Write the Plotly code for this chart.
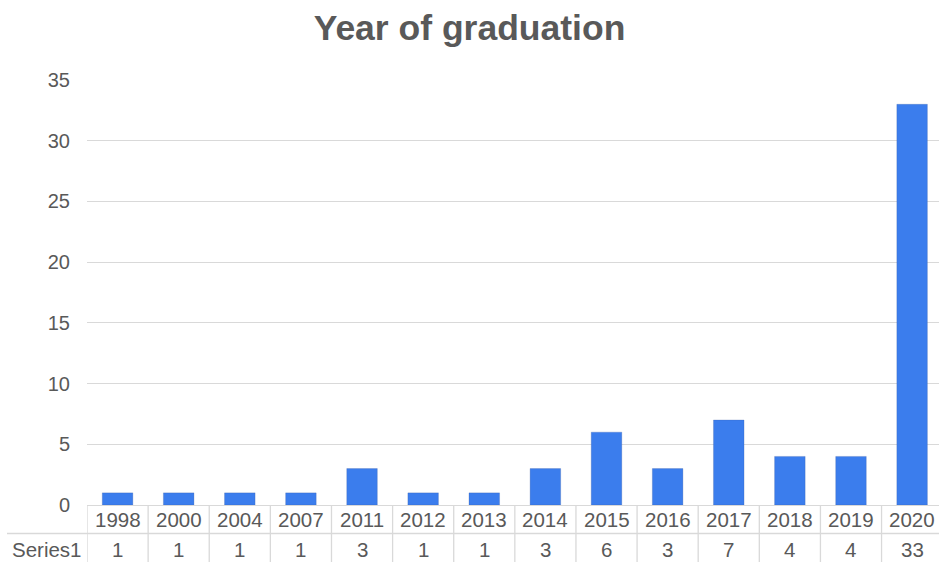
import plotly.graph_objects as go

years = ["1998", "2000", "2004", "2007", "2011", "2012", "2013", "2014",
         "2015", "2016", "2017", "2018", "2019", "2020"]
counts = [1, 1, 1, 1, 3, 1, 1, 3, 6, 3, 7, 4, 4, 33]
series_name = "Series1"
title_text = "Year of graduation"

TEXT = "#595959"
GRID = "#D9D9D9"
FONT = "Liberation Sans, Arial, sans-serif"

fig = go.Figure()
fig.add_trace(go.Bar(
    x=list(range(len(years))), y=counts, width=0.5,
    marker=dict(color="#3B7DED", line=dict(color="rgba(60,90,160,0.25)", width=1)),
    hoverinfo="y", showlegend=False,
))

n = len(years)
shapes = []
annotations = []
ROW1 = -14
ROW2 = -44
ph = 562 - 80 - 57
pw = 852
for i, (yr, c) in enumerate(zip(years, counts)):
    annotations.append(dict(x=i, y=0, xref="x", yref="paper", text=yr, showarrow=False,
                            xanchor="center", yanchor="middle", yshift=ROW1,
                            font=dict(size=20.5, color=TEXT, family=FONT)))
    annotations.append(dict(x=i, y=0, xref="x", yref="paper", text=str(c), showarrow=False,
                            xanchor="center", yanchor="middle", yshift=ROW2,
                            font=dict(size=20.5, color=TEXT, family=FONT)))
annotations.append(dict(x=-40 / pw, y=0, xref="paper", yref="paper", text=series_name, showarrow=False,
                        xanchor="center", yanchor="middle", yshift=ROW2,
                        font=dict(size=20.5, color=TEXT, family=FONT)))
for i in range(n + 1):
    shapes.append(dict(type="line", xref="x", yref="paper", x0=i - 0.5, x1=i - 0.5,
                       y0=0, y1=-70 / ph, line=dict(color=GRID, width=1.3)))
shapes.append(dict(type="line", xref="paper", yref="paper", x0=-80 / pw, x1=1.01,
                   y0=-28.5 / ph, y1=-28.5 / ph, line=dict(color=GRID, width=1.3)))

fig.update_layout(
    width=939, height=562,
    margin=dict(l=87, r=0, t=80, b=57),
    paper_bgcolor="white", plot_bgcolor="white",
    title=dict(text="<b>" + title_text + "</b>", x=0.5, xref="container", y=1 - 28 / 562,
               yanchor="middle", xanchor="center",
               font=dict(size=35.5, color=TEXT, family=FONT)),
    xaxis=dict(range=[-0.5, 13.44], showticklabels=False, showgrid=False, zeroline=False,
               showline=False, ticks=""),
    yaxis=dict(range=[0, 35], dtick=5, showgrid=True, gridcolor=GRID, gridwidth=1.3,
               zeroline=True, zerolinecolor=GRID, zerolinewidth=1.3,
               tickfont=dict(size=20, color=TEXT, family=FONT), ticklabelstandoff=16,
               showline=False),
    bargap=0.5,
    shapes=shapes, annotations=annotations,
)
fig.write_html("out.html", config={"displayModeBar": False},
               post_script="document.body.style.margin='0';document.body.style.overflow='hidden';")
